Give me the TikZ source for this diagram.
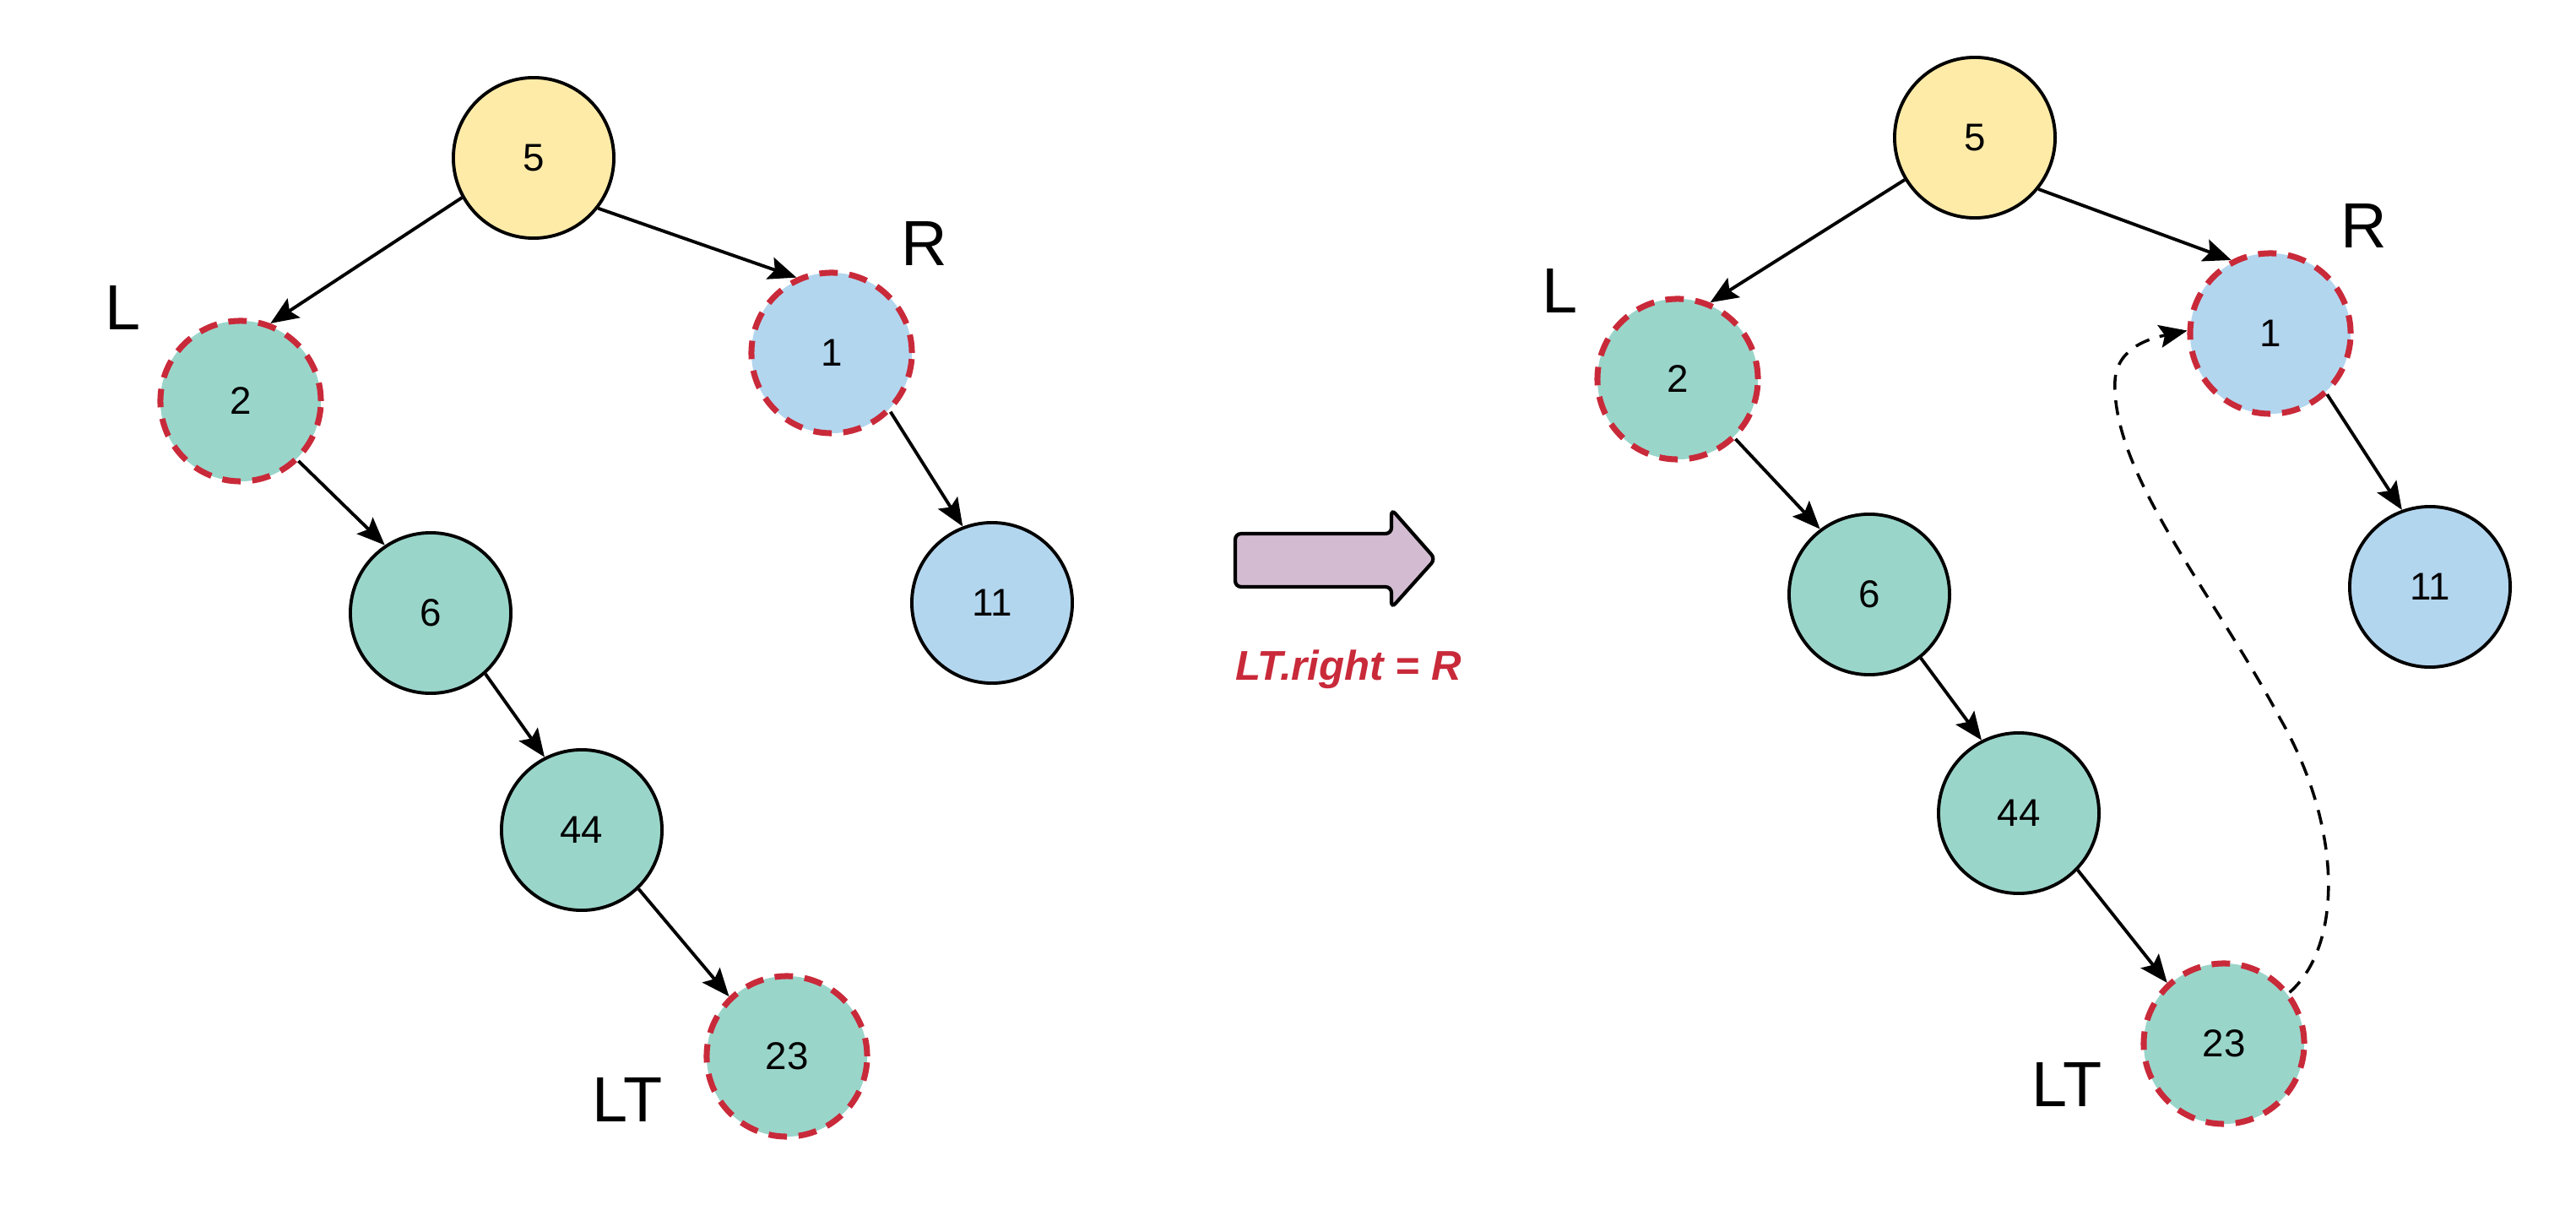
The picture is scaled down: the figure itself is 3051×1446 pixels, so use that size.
\documentclass[tikz,border=0pt]{standalone}
\usepackage{fontspec}
\setmainfont{Liberation Sans}
\usetikzlibrary{arrows.meta}
\definecolor{rootfill}{HTML}{FFEBA8}
\definecolor{leftfill}{HTML}{9AD5CA}
\definecolor{rightfill}{HTML}{B3D6EF}
\definecolor{markred}{HTML}{C92A3A}
\definecolor{arrowfill}{HTML}{D3BCD1}
\begin{document}
\begin{tikzpicture}[x=0.01cm,y=-0.01cm,
  tnode/.style={circle, draw=black, line width=1.1pt, minimum size=1.9cm, inner sep=0pt,
    font=\fontsize{13}{15}\selectfont},
  root/.style={tnode, fill=rootfill},
  lnode/.style={tnode, fill=leftfill},
  rnode/.style={tnode, fill=rightfill},
  marked/.style={draw=markred, line width=2pt, dash pattern=on 6.2pt off 3.9pt},
  edge/.style={line width=1.1pt, -{Stealth[length=0.33cm,width=0.27cm,inset=0.06cm]}},
  relink/.style={line width=1pt, dash pattern=on 5pt off 3.6pt,
    -{Stealth[length=0.33cm,width=0.27cm,inset=0.06cm]}},
  tag/.style={font=\fontsize{21.5}{24}\selectfont},
]
\useasboundingbox (0,0) rectangle (3051,1446);

% ---- tree before the relink ----
\node[root] (a5) at (632,187) {5};
\node[lnode,marked] (a2) at (285,475) {2};
\node[rnode,marked] (a1) at (985,418) {1};
\node[lnode] (a6) at (510,726) {6};
\node[rnode] (a11) at (1175,714) {11};
\node[lnode] (a44) at (689,983) {44};
\node[lnode,marked] (a23) at (932,1251) {23};

\draw[edge] (a5.209) -- (a2.69);
\draw[edge] (a5.-38) -- (a1.115);
\draw[edge] (a2.-46) -- (a6.124);
\draw[edge] (a1.-45) -- (a11.111);
\draw[edge] (a6.-48) -- (a44.117);
\draw[edge] (a44.-46) -- (a23.134);

\node[tag] (aL) at (146,364) {L};
\node[tag] (aR) at (1095,288) {R};
\node[tag] (aLT) at (743,1302) {LT};

% ---- transition arrow ----
\draw[line width=1.2pt, fill=arrowfill, rounded corners=2pt]
  (1463,632) -- (1648,632) -- (1648,603) -- (1700,662) -- (1648,720)
  -- (1648,695) -- (1463,695) -- cycle;
\node[font=\fontsize{14}{16}\selectfont\bfseries\itshape, text=markred] (op) at (1597,793) {LT.right = R};

% ---- tree after the relink ----
\node[root] (b5) at (2339,163) {5};
\node[lnode,marked] (b2) at (1987,449) {2};
\node[rnode,marked] (b1) at (2689,395) {1};
\node[lnode] (b6) at (2214,704) {6};
\node[rnode] (b11) at (2878,695) {11};
\node[lnode] (b44) at (2391,963) {44};
\node[lnode,marked] (b23) at (2634,1236) {23};

\draw[edge] (b5.211) -- (b2.67);
\draw[edge] (b5.-39) -- (b1.118);
\draw[edge] (b2.-46) -- (b6.127);
\draw[edge] (b1.-47) -- (b11.110);
\draw[edge] (b6.-51) -- (b44.117);
\draw[edge] (b44.-44) -- (b23.133);

\draw[relink] (b23.38) .. controls (2775,1120) and (2775,980) .. (2700,850)
  .. controls (2620,700) and (2500,560) .. (2505,450)
  .. controls (2508,410) and (2550,400) .. (b1.178);

\node[tag] (bL) at (1848,344) {L};
\node[tag] (bR) at (2800,267) {R};
\node[tag] (bLT) at (2448,1284) {LT};
\end{tikzpicture}
\end{document}
